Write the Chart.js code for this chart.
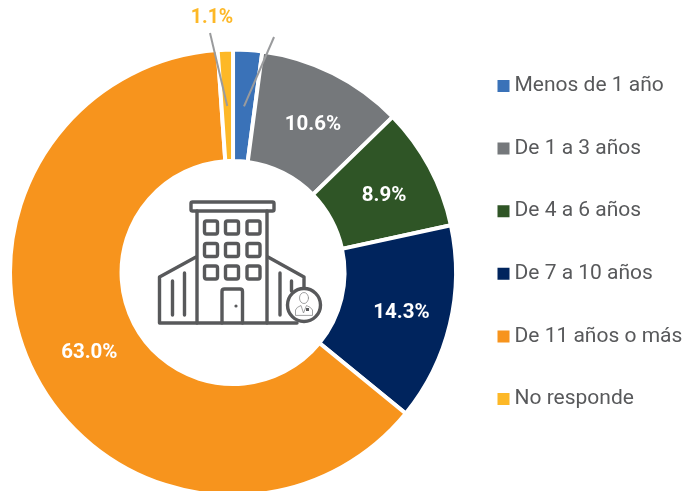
<!DOCTYPE html>
<html lang="es"><head><meta charset="utf-8">
<style>
html,body{margin:0;padding:0;background:#fff;overflow:hidden}
#wrap{position:relative;width:683px;height:491px;overflow:hidden}
canvas{position:absolute;left:0;top:0}
svg{position:absolute;left:0;top:0;pointer-events:none}
</style>
<script src="https://cdn.jsdelivr.net/npm/chart.js@4"></script>
</head><body>
<div id="wrap">
<canvas id="c" width="683" height="491" style="width:683px;height:491px"></canvas>
<svg width="683" height="491" viewBox="0 0 683 491" fill="none" stroke="#58595b" stroke-width="3.4" stroke-linejoin="round" stroke-linecap="round">
  <rect x="191" y="202" width="83" height="9" rx="1.5"/>
  <path d="M197 211V323M267 211V323"/>
  <g>
    <rect x="204.5" y="221" width="13" height="13" rx="2"/><rect x="225.5" y="221" width="13" height="13" rx="2"/><rect x="247" y="221" width="13" height="13" rx="2"/>
    <rect x="204.5" y="243.5" width="13" height="13" rx="2"/><rect x="225.5" y="243.5" width="13" height="13" rx="2"/><rect x="247" y="243.5" width="13" height="13" rx="2"/>
    <rect x="204.5" y="266" width="13" height="13" rx="2"/><rect x="225.5" y="266" width="13" height="13" rx="2"/><rect x="247" y="266" width="13" height="13" rx="2"/>
  </g>
  <path d="M196 257L159.5 277V323H297"/>
  <path d="M268 257L304 277V290"/>
  <path d="M172.5 281V315M184.5 273V315M280 273V315M291.5 281V291"/>
  <path d="M222 323V291.5Q222 289 224.5 289H240Q242.5 289 242.5 291.5V323"/>
  <circle cx="236" cy="306" r="1.6" fill="#58595b" stroke="none"/>
  <circle cx="304" cy="305" r="16.5" fill="#fff"/>
  <g stroke-width="0.8" stroke="#8a8b8d">
    <ellipse cx="304" cy="298" rx="4.5" ry="5.5"/>
    <path d="M295.5 315V310Q296.5 307 301 305.5L303.5 313L306.5 305.5Q311 307 312.5 310V315Z"/>
  </g>
  <rect x="306" y="308" width="3" height="3" fill="#58595b" stroke="none"/>
</svg>
</div>
<script>
const categories = ["Menos de 1 año","De 1 a 3 años","De 4 a 6 años","De 7 a 10 años","De 11 años o más","No responde"];
const values = [2.1,10.6,8.9,14.3,63.0,1.1];
const valueLabels = [null,"10.6%","8.9%","14.3%","63.0%",null];
const colors = ["#3a72b8","#75787b","#2f5526","#00245d","#f7941d","#fdb827"];

const labelNudges = [[0,0],[4.5,2.5],[3,2.5],[5,1.5],[5.5,3.5],[0,0]];
const leaderIndexes = [0,5];
const leaderTips = {0:[41,-235.5],5:[-23,-239.5]};

const overlay = {
  id:'overlay',
  afterLayout(chart){
    chart.legend.top -= 30; chart.legend.bottom -= 30;
    chart.legend.left = 461.4;
  },
  afterDatasetsDraw(chart){
    const ctx = chart.ctx, arcs = chart.getDatasetMeta(0).data;
    ctx.save();
    ctx.textAlign='center'; ctx.textBaseline='middle';
    ctx.font='700 20.5px Roboto'; ctx.fillStyle='#ffffff';
    arcs.forEach((a,i)=>{
      if(!valueLabels[i]) return;
      const m=(a.startAngle+a.endAngle)/2, r=168;
      ctx.fillText(valueLabels[i], a.x+Math.cos(m)*r+labelNudges[i][0], a.y+Math.sin(m)*r+labelNudges[i][1]);
    });
    ctx.strokeStyle='#9a9b9d'; ctx.lineWidth=2;
    leaderIndexes.forEach(i=>{
      const a=arcs[i], m=(a.startAngle+a.endAngle)/2, r=166.5;
      ctx.beginPath();
      ctx.moveTo(a.x+Math.cos(m)*r, a.y+Math.sin(m)*r);
      ctx.lineTo(a.x+leaderTips[i][0], a.y+leaderTips[i][1]);
      ctx.stroke();
    });
    const y=arcs[5];
    ctx.font='700 19.5px Roboto';
    ctx.fillStyle=colors[5];
    ctx.fillText(values[5].toFixed(1)+"%", y.x-21, y.y-254);
    ctx.restore();
  }
};

new Chart(document.getElementById('c'),{
  type:'doughnut',
  data:{labels:categories,datasets:[{data:values,backgroundColor:colors,borderColor:'#ffffff',borderWidth:4,hoverOffset:0}]},
  options:{
    responsive:false,animation:false,
    radius:223,cutout:'50%',
    layout:{padding:{left:14,top:54,right:0,bottom:0}},
    plugins:{
      tooltip:{enabled:false},
      legend:{
        position:'right',align:'center',
        labels:{
          boxWidth:1,boxHeight:1,padding:41.6,color:'#58595b',
          font:{family:'Roboto',size:21},
          generateLabels(chart){
            return Chart.overrides.doughnut.plugins.legend.labels.generateLabels(chart).map(l=>({...l,strokeStyle:l.fillStyle,lineWidth:11}));
          }
        }
      }
    }
  },
  plugins:[overlay]
});
</script>
</body></html>
